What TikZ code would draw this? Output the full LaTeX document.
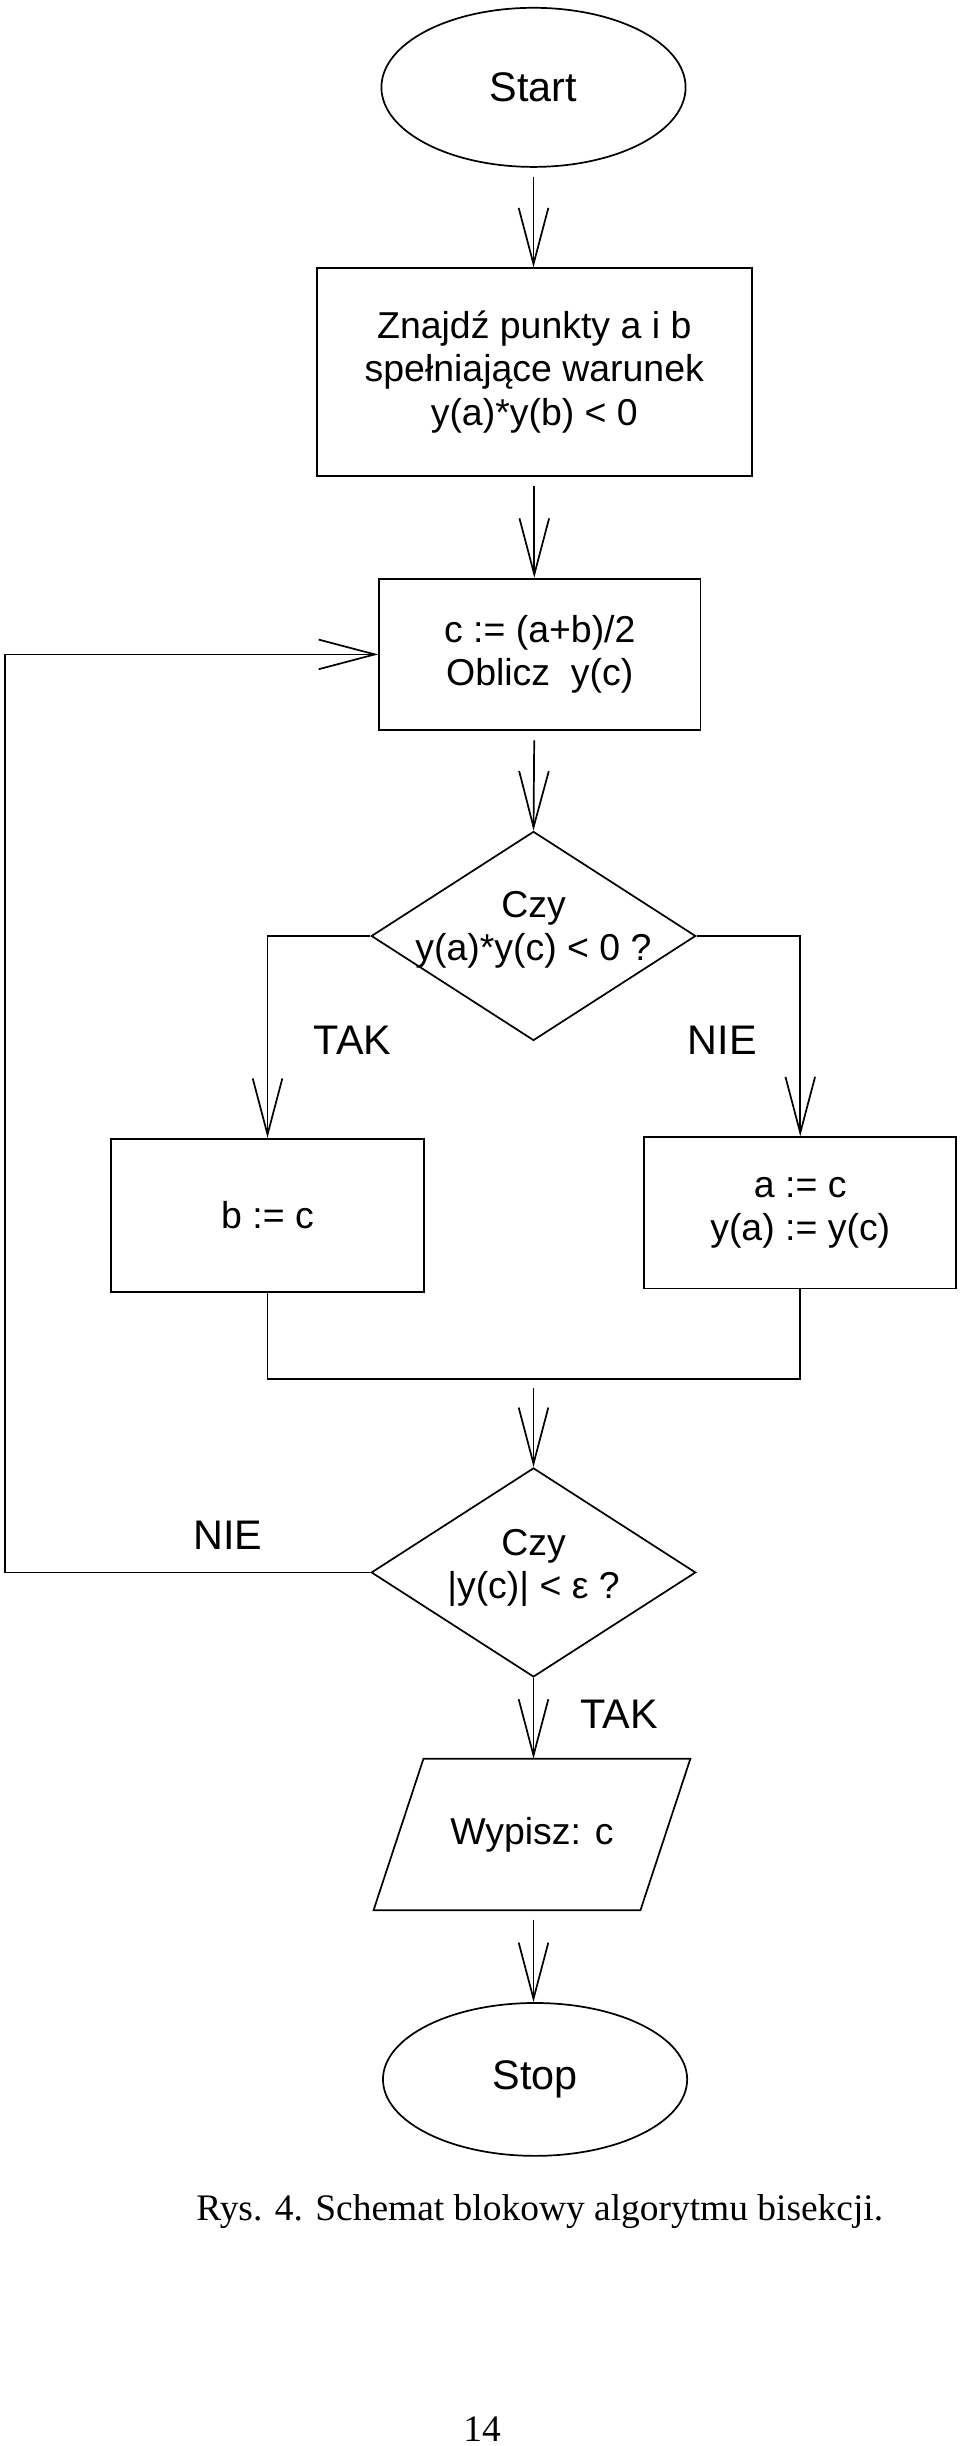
\documentclass[tikz,border=0pt]{standalone}
\usepackage{fontspec}
\setmainfont{Liberation Sans}
\newfontfamily\serifcap{Liberation Serif}
\usetikzlibrary{shapes.geometric,arrows.meta}
\tikzset{every path/.style={black,line width=1.1pt}, every node/.style={inner sep=2pt, align=center, font=\fontsize{24}{28}\selectfont}}
\tikzset{term/.style={draw, ellipse, minimum width=195pt, minimum height=102pt, font=\fontsize{26.5}{30}\selectfont},
  block/.style={draw, rectangle},
  decision/.style={draw, diamond, minimum width=208pt, minimum height=134pt},
  io/.style={rectangle, minimum width=170pt, minimum height=96pt},
  arr/.style={-{Straight Barb[length=36pt,width=19pt]}},
  flow/.style={arr, shorten <=6pt},
  answer/.style={font=\fontsize{26.5}{30}\selectfont},
  capt/.style={font=\serifcap\fontsize{24}{28}\selectfont}}

\begin{document}
\begin{tikzpicture}[x=1pt,y=-1pt]
   \useasboundingbox (0,0) rectangle (616,1568);
   \node[term] (start) at (342,56) {Start};
   \node[block, minimum width=279pt, minimum height=133pt] (find) at (342.5,238.5) {Znajdź punkty a i b\\spełniające warunek\\y(a)*y(b) < 0};
   \node[block, minimum width=206pt, minimum height=97pt] (calc) at (346,419.5) {c := (a+b)/2\\Oblicz~ y(c)};
   \node[decision] (q1) at (342,600) {};
   \node (q1txt) at ([yshift=4pt]q1.center) {Czy\\y(a)*y(c) < 0 ?};
   \node[block, minimum width=201pt, minimum height=98pt] (bset) at (171.5,779) {b := c};
   \node[block, minimum width=200pt, minimum height=97pt] (aset) at (513,777.5) {a := c\\y(a) := y(c)};
   \node[decision] (q2) at (342,1008) {};
   \node (q2txt) at ([yshift=3pt]q2.center) {Czy\\|y(c)| < ε ?};
   \node[io] (out) at (341,1176) {Wypisz: c};
   \draw ([xshift=16pt]out.north west) -- ([xshift=16pt]out.north east)
      -- ([xshift=-16pt]out.south east) -- ([xshift=-16pt]out.south west) -- cycle;
   \node[term, minimum height=98pt] (stop) at (343,1333) {Stop};

   \draw[flow] (start.south) -- (start.south |- find.north);
   \draw[flow] (find.south) -- (find.south |- calc.north);
   \draw[flow] (calc.south -| find.south) -- (q1.north);
   \draw[arr] (q1.west) -| (bset.north);
   \draw[arr] (q1.east) -| (aset.north);
   \coordinate (join) at (342,884);
   \draw (bset.south) |- (join) -| (aset.south);
   \draw[flow] (join) -- (q2.north);
   \coordinate (back) at (3,0);
   \draw[arr] (q2.west) -- (q2.west -| back) |- (calc.west);
   \draw[arr] (q2.south) -- (q2.south |- out.north);
   \draw[flow] (q2.south |- out.south) -- (q2.south |- stop.north);

   \node[answer] (yes1) at (226,667) {TAK};
   \node[answer] (no1) at (463,667) {NIE};
   \node[answer] (no2) at (146,984) {NIE};
   \node[answer] (yes2) at (397,1099) {TAK};
   \node[capt] (caption) at (346,1418) {Rys. 4. Schemat blokowy algorytmu bisekcji.};
   \node[capt] (pageno) at (309,1557) {14};
\end{tikzpicture}
\end{document}
